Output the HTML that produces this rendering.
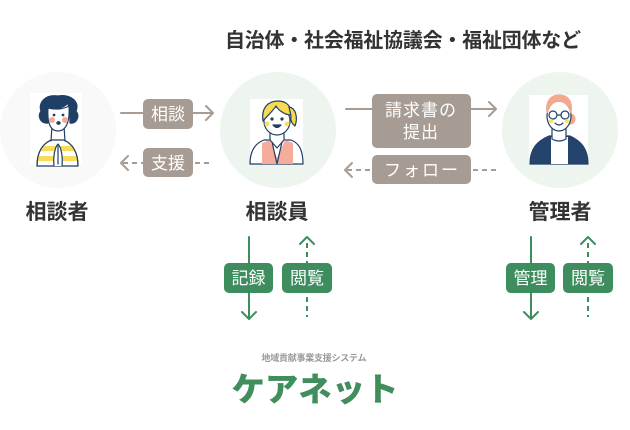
<!DOCTYPE html>
<html><head><meta charset="utf-8"><style>
html,body{margin:0;padding:0;background:#fff;}
svg{display:block;}
text{font-family:"Liberation Sans","Noto Sans CJK JP",sans-serif;}
</style></head><body>
<svg width="630" height="430" viewBox="0 0 630 430" xmlns="http://www.w3.org/2000/svg">
<defs>
<clipPath id="lb"><path d="M37,166 C37,151 43,144 51,140 L64,140 C72,144 78,151 78,166 Z"/></clipPath>
</defs>
<rect width="630" height="430" fill="#fff"/>
<!-- title -->
<text x="403" y="47" text-anchor="middle" font-size="20" font-weight="700" fill="#333" textLength="356" lengthAdjust="spacing">自治体・社会福祉協議会・福祉団体など</text>

<!-- circles -->
<circle cx="58" cy="130" r="58" fill="#f9f9f9"/>
<circle cx="278" cy="130" r="58" fill="#eef5ef"/>
<circle cx="560" cy="130" r="58" fill="#eef5ef"/>

<!-- left person -->
<rect x="30" y="93" width="52" height="72" fill="#fff"/>
<g stroke="#1f3f66" stroke-width="1.2" stroke-linecap="round" stroke-linejoin="round">
<path d="M37,166 C37,151 43,144 51,140 L64,140 C72,144 78,151 78,166 Z" fill="#fff"/>
<g clip-path="url(#lb)" stroke="none" fill="#f7dc5a"><rect x="30" y="146" width="52" height="5"/><rect x="30" y="156" width="52" height="5"/></g>
<path d="M37,166 C37,151 43,144 51,140 M64,140 C72,144 78,151 78,166" fill="none"/>
<path d="M52,126 L51,141 M64,126 L65,141" fill="none"/>
<path d="M58,96 C45,94 38,103 41,111 C37,117 41,124 48,123 L48,110 C58,110 66,106 68,103 C69,110 70,115 70,123 C77,124 80,116 76,111 C80,102 71,94 58,96 Z" fill="#1f3f66"/>
<path d="M48,108 C47,122 50,131 58,131 C66,131 70,122 69,106 C64,109 56,110 48,108 Z" fill="#fff"/>
<circle cx="52" cy="120" r="3" fill="#f5a99b" stroke="none"/>
<circle cx="65" cy="120" r="3" fill="#f5a99b" stroke="none"/>
<circle cx="54" cy="115" r="0.8" fill="#1f3f66"/>
<circle cx="63" cy="115" r="0.8" fill="#1f3f66"/>
<ellipse cx="58.5" cy="123" rx="1.6" ry="1.3" fill="#1f3f66"/>
<path d="M54,166 C53,156 55,147 58,144 C61,147 63,156 62,166" fill="#fff"/>
<path d="M58,146 L58,164" fill="none"/>
</g>

<!-- middle person -->
<rect x="250" y="99" width="53" height="64" fill="#fff"/>
<g stroke="#1f3f66" stroke-width="1.2" stroke-linecap="round" stroke-linejoin="round">
<path d="M250,164 C250,150 256,143 264,140 L291,140 C299,143 303,150 303,164 Z" fill="#fff"/>
<path d="M262,164 L262,143 L270,140 L277,158 L285,140 L293,143 L293,164 Z" fill="#f5ad9b" stroke="none"/>
<path d="M270,129 L270,140 L277,148 L284,140 L284,129" fill="#fff"/>
<path d="M272,142 L277,164 L282,142" fill="none"/>
<ellipse cx="277" cy="121" rx="13" ry="14" fill="#fff"/>
<path d="M263,121 C261,108 268,101 278,101 C287,101 292,107 291,115 C285,115 278,110 276,106 C273,111 268,115 263,121 Z" fill="#f9d94e"/>
<path d="M289,107 C296,108 298,118 295,126 C292,124 290,120 291,116 Z" fill="#f9d94e"/>
<circle cx="267" cy="124" r="2.5" fill="#f7e15c" stroke="none"/>
<circle cx="287" cy="124" r="2.5" fill="#f7e15c" stroke="none"/>
<circle cx="272" cy="119" r="1" fill="#1f3f66"/>
<circle cx="282" cy="119" r="1" fill="#1f3f66"/>
<path d="M273,125 Q277,130 281,125 Z" fill="#1f3f66"/>
</g>

<!-- right person -->
<rect x="529" y="95" width="59" height="68" fill="#fff"/>
<g stroke="#1f3f66" stroke-width="1.2" stroke-linecap="round" stroke-linejoin="round">
<path d="M530,164 C530,149 537,141 549,136 L570,136 C581,141 588,149 588,164 Z" fill="#24446d"/>
<path d="M551,164 L551,137 L568,137 L568,164 Z" fill="#fff" stroke="none"/>
<path d="M552,128 L552,139 Q559,143 566,139 L566,128" fill="#fff"/>
<circle cx="570" cy="119" r="5" fill="#f2a98e" stroke="#f2a98e"/>
<ellipse cx="559" cy="116" rx="12" ry="15" fill="#fff"/>
<path d="M547,113 C545,100 552,95 559,95 C567,95 573,100 571,113 C569,106 566,102 559,101 C552,102 549,106 547,113 Z" fill="#f2a98e" stroke="#f2a98e"/>
<circle cx="553" cy="115" r="4" fill="none"/>
<circle cx="565" cy="115" r="4" fill="none"/>
<path d="M557,115 L561,115" fill="none"/>
<circle cx="551" cy="121" r="2.2" fill="#f7e15c" stroke="none"/>
<circle cx="567" cy="121" r="2.2" fill="#f7e15c" stroke="none"/>
<path d="M555,123 Q559,127 563,123" fill="none"/>
</g>

<!-- names -->
<text x="57" y="219" text-anchor="middle" font-size="21" font-weight="700" fill="#333">相談者</text>
<text x="277" y="219" text-anchor="middle" font-size="21" font-weight="700" fill="#333">相談員</text>
<text x="560" y="219" text-anchor="middle" font-size="21" font-weight="700" fill="#333">管理者</text>

<!-- taupe connectors -->
<g stroke="#a69c94" stroke-width="2" fill="none" stroke-linecap="round" stroke-linejoin="round">
<path d="M121,113 L213,113 M206,106 L213,113 L206,120"/>
<path d="M123,163 L213,163" stroke-dasharray="5 4" stroke-linecap="butt"/>
<path d="M128,156 L121,163 L128,170"/>
<path d="M346,109 L496,109 M489,102 L496,109 L489,116"/>
<path d="M347,170 L496,170" stroke-dasharray="5 4" stroke-linecap="butt"/>
<path d="M352,163 L345,170 L352,177"/>
</g>
<g fill="#a69c94">
<rect x="143" y="99" width="50" height="30" rx="5"/>
<rect x="143" y="148" width="50" height="29" rx="5"/>
<rect x="372" y="94" width="99" height="54" rx="5"/>
<rect x="372" y="155" width="99" height="29" rx="5"/>
</g>
<g fill="#fff" font-size="17" text-anchor="middle">
<text x="168" y="120">相談</text>
<text x="168" y="169">支援</text>
<text x="421" y="116" letter-spacing="1">請求書の</text>
<text x="421" y="138" letter-spacing="1">提出</text>
<text x="422" y="176" letter-spacing="2">フォロー</text>
</g>

<!-- green connectors -->
<g stroke="#3d8d5f" stroke-width="2" fill="none" stroke-linecap="round" stroke-linejoin="round">
<path d="M249,237 L249,319 M242,312 L249,319 L256,312"/>
<path d="M307,243 L307,317" stroke-dasharray="5 4" stroke-linecap="butt"/>
<path d="M300,244 L307,237 L314,244"/>
<path d="M531,237 L531,319 M524,312 L531,319 L538,312"/>
<path d="M588,243 L588,317" stroke-dasharray="5 4" stroke-linecap="butt"/>
<path d="M581,244 L588,237 L595,244"/>
</g>
<g fill="#3d8d5f">
<rect x="224" y="263" width="49" height="30" rx="5"/>
<rect x="282" y="263" width="50" height="30" rx="5"/>
<rect x="506" y="263" width="49" height="30" rx="5"/>
<rect x="563" y="263" width="50" height="30" rx="5"/>
</g>
<g fill="#fff" font-size="17" text-anchor="middle">
<text x="248.5" y="284">記録</text>
<text x="307" y="284">閲覧</text>
<text x="530.5" y="284">管理</text>
<text x="588" y="284">閲覧</text>
</g>

<!-- logo -->
<text x="314" y="361" text-anchor="middle" font-size="9" font-weight="700" fill="#9a9a9a" textLength="105" lengthAdjust="spacing">地域貢献事業支援システム</text>
<text x="315" y="401" text-anchor="middle" font-size="33" font-weight="900" fill="#3f8e5c" textLength="167" lengthAdjust="spacingAndGlyphs">ケアネット</text>
</svg>
</body></html>
